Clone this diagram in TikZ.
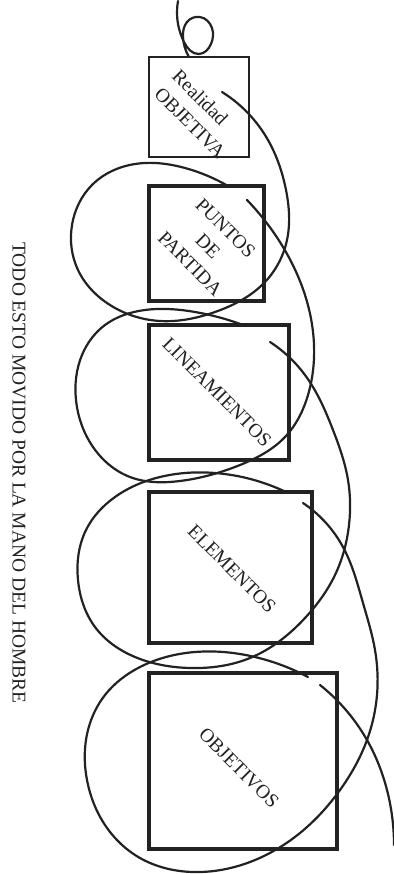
\documentclass[tikz,border=0pt]{standalone}
\usepackage{fontspec}
\setmainfont{Liberation Serif}
\usetikzlibrary{hobby}
\definecolor{ink}{HTML}{222222}
\tikzset{
  box/.style={draw=ink, inner sep=0pt},
  lbl/.style={inner sep=0pt, font=\fontsize{19.5}{25}\selectfont, rotate=-45, text=ink},
  coil/.style={draw=ink, line width=2.2pt, line cap=round},
}
\begin{document}
\begin{tikzpicture}[x=1pt,y=-1pt]
\useasboundingbox[fill=white] (0,0) rectangle (393,874);
% boxes
\node[box, line width=2.7pt, minimum width=100pt, minimum height=100pt] (b1) at (199,107) {};
\node[box, line width=3.2pt, minimum width=115pt, minimum height=115pt] (b2) at (206.5,243.5) {};
\node[box, line width=3.6pt, minimum width=140pt, minimum height=135pt] (b3) at (219,392.5) {};
\node[box, line width=4pt, minimum width=163pt, minimum height=151pt] (b4) at (230.5,567.5) {};
\node[box, line width=4.5pt, minimum width=188pt, minimum height=176pt] (b5) at (243,761) {};
% labels
\node[lbl, align=left] (t1) at (199,114) {Realidad\\OBJETIVA};
\node[lbl, align=center] (t2) at (208,246) {PUNTOS\\DE\\PARTIDA};
\node[lbl] (t3) at (217,392) {LINEAMIENTOS};
\node[lbl] (t4) at (232,569) {ELEMENTOS};
\node[lbl] (t5) at (239,768) {OBJETIVOS};
\node[inner sep=0pt, font=\fontsize{19.5}{24}\selectfont, rotate=-90, text=ink] (side) at (19,473) {TODO ESTO MOVIDO POR LA MANO DEL HOMBRE};
% coordinates where the spiral enters and leaves each box
\coordinate (s1) at (222,92);  \coordinate (e2) at (228,186);
\coordinate (s2) at (247,200); \coordinate (e3) at (243,325);
\coordinate (s3) at (270,342); \coordinate (e4) at (288,493);
\coordinate (s4) at (303,503); \coordinate (e5) at (308,677);
\coordinate (s5) at (320,685); \coordinate (fin) at (394,845);
\coordinate (top) at (178,1);  \coordinate (e1) at (189,57);
% top loop
\draw[coil] (top) to[curve through={(178,24) .. (184,42) .. (199,54) .. (211,44) .. (212,28) .. (200,17) .. (187,22) .. (183,37)}] (e1);
% coil 1
\draw[coil] (s1) to[curve through={(265,135) .. (286,190) .. (287,240) .. (265,282) .. (215,312) .. (160,321) .. (110,305) .. (78,270) .. (72,225) .. (92,185) .. (135,164) .. (185,168)}] (e2);
% coil 2
\draw[coil] (s2) to[curve through={(283,247) .. (305,295) .. (314,345) .. (308,395) .. (285,437) .. (240,465) .. (180,481) .. (130,477) .. (93,447) .. (76,400) .. (82,355) .. (105,325) .. (145,310) .. (195,312)}] (e3);
% coil 3
\draw[coil] (s3) to[curve through={(305,375) .. (333,430) .. (348,480) .. (349,525) .. (335,575) .. (305,618) .. (250,658) .. (190,668) .. (135,657) .. (95,627) .. (78,580) .. (86,530) .. (115,497) .. (160,477) .. (215,473)}] (e4);
% coil 4
\draw[coil] (s4) to[curve through={(343,547) .. (363,603) .. (375,650) .. (377,695) .. (367,740) .. (340,790) .. (300,833) .. (250,862) .. (193,872) .. (140,858) .. (105,825) .. (87,780) .. (88,730) .. (105,695) .. (140,667) .. (195,652) .. (255,657)}] (e5);
% coil 5
\draw[coil] (s5) to[curve through={(367,740) .. (387,790)}] (fin);
\end{tikzpicture}
\end{document}
